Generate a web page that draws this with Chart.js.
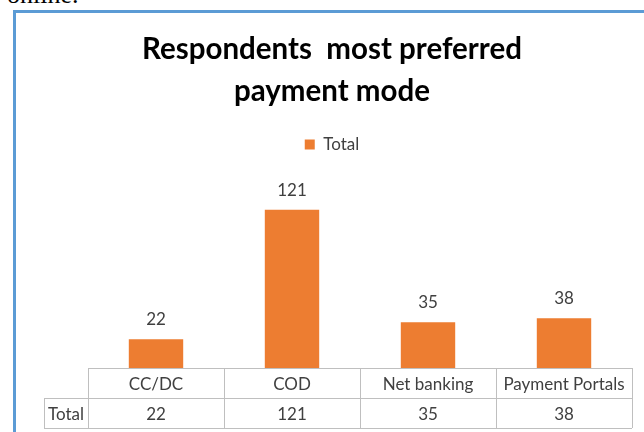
<!DOCTYPE html>
<html>
<head>
<meta charset="utf-8">
<script src="https://cdn.jsdelivr.net/npm/chart.js@4/dist/chart.umd.min.js"></script>
<style>
  html, body { margin: 0; padding: 0; width: 644px; height: 432px; overflow: hidden; background: #fff; }
  #prev { position: absolute; left: 7px; top: -18px; font: 26px/26px "Liberation Serif", "Times New Roman", serif; color: #000; white-space: nowrap; }
  #frame { position: absolute; left: 13px; top: 10px; width: 700px; height: 500px; border-left: 3px solid #5B9BD5; border-top: 3px solid #5B9BD5; }
  #wrap { position: absolute; left: 0; top: 0; width: 644px; height: 432px; }
</style>
</head>
<body>
<div id="prev">online.</div>
<div id="frame"></div>
<div id="wrap"><canvas id="c" width="644" height="432"></canvas></div>
<script>
const titleLines = ["Respondents  most preferred", "payment mode"];
const categories = ["CC/DC", "COD", "Net banking", "Payment Portals"];
const seriesName = "Total";
const totals = [22, 121, 35, 38];

const FONT = "Lato, 'Open Sans', sans-serif";
const TEXT = "#404040";

const legendGap = {
  id: 'legendGap',
  beforeInit(chart) {
    const orig = chart.legend.fit;
    chart.legend.fit = function () { orig.call(this); this.height += 22; };
  }
};

const barLabels = {
  id: 'barLabels',
  afterDatasetsDraw(chart) {
    const ctx = chart.ctx;
    const meta = chart.getDatasetMeta(0);
    ctx.save();
    ctx.font = "17px " + FONT;
    ctx.fillStyle = TEXT;
    ctx.textAlign = 'center';
    ctx.textBaseline = 'alphabetic';
    meta.data.forEach((bar, i) => {
      ctx.fillText(String(chart.data.datasets[0].data[i]), bar.x, bar.y - 14);
    });
    ctx.restore();
  }
};

const dataTable = {
  id: 'dataTable',
  afterDraw(chart) {
    const ctx = chart.ctx;
    const x = chart.scales.x;
    const area = chart.chartArea;
    const labels = chart.data.labels;
    const n = labels.length;
    const step = n > 1 ? x.getPixelForValue(1) - x.getPixelForValue(0) : x.width;
    const left = x.getPixelForValue(0) - step / 2;
    const right = x.getPixelForValue(n - 1) + step / 2;
    const rowH = 30;
    const top = area.bottom;
    const labelLeft = left - 44;
    const p = v => Math.round(v) + 0.5;
    ctx.save();
    ctx.strokeStyle = "#BFBFBF";
    ctx.lineWidth = 1;
    ctx.beginPath();
    // horizontal lines
    ctx.moveTo(left, p(top)); ctx.lineTo(right, p(top));
    ctx.moveTo(labelLeft, p(top + rowH)); ctx.lineTo(right, p(top + rowH));
    ctx.moveTo(labelLeft, p(top + 2 * rowH)); ctx.lineTo(right, p(top + 2 * rowH));
    // vertical lines
    ctx.moveTo(p(labelLeft), top + rowH); ctx.lineTo(p(labelLeft), top + 2 * rowH);
    for (let i = 0; i <= n; i++) {
      const xx = p(left + i * step);
      ctx.moveTo(xx, top); ctx.lineTo(xx, top + 2 * rowH);
    }
    ctx.stroke();
    ctx.font = "17px " + FONT;
    ctx.fillStyle = TEXT;
    ctx.textAlign = 'center';
    ctx.textBaseline = 'alphabetic';
    const vals = chart.data.datasets[0].data;
    for (let i = 0; i < n; i++) {
      const cx = x.getPixelForValue(i);
      ctx.fillText(labels[i], cx, top + 22);
      ctx.fillText(String(vals[i]), cx, top + rowH + 22);
    }
    ctx.fillText(chart.data.datasets[0].label, (labelLeft + left) / 2, top + rowH + 22);
    ctx.restore();
  }
};

new Chart(document.getElementById('c'), {
  type: 'bar',
  data: {
    labels: categories,
    datasets: [{
      label: seriesName,
      data: totals,
      backgroundColor: '#ED7D31',
      borderWidth: 0,
      categoryPercentage: 1.0,
      barPercentage: 0.4
    }]
  },
  options: {
    responsive: false,
    animation: false,
    devicePixelRatio: 1,
    layout: { padding: { left: 32, right: 12, top: 0, bottom: 64 } },
    plugins: {
      title: {
        display: true,
        text: titleLines,
        color: '#000',
        font: { family: FONT, size: 29.5, weight: 'bold', lineHeight: '42px' },
        padding: { top: 28.6, bottom: 13.4 }
      },
      legend: {
        display: true,
        position: 'top',
        labels: {
          boxWidth: 10,
          boxHeight: 10,
          padding: 10,
          color: TEXT,
          font: { family: FONT, size: 17 }
        }
      },
      tooltip: { enabled: false }
    },
    scales: {
      x: { display: false },
      y: {
        display: true,
        min: 0,
        max: 140,
        grid: { display: false },
        border: { display: false },
        ticks: { display: false },
        afterFit(scale) { scale.width = 56; }
      }
    }
  },
  plugins: [legendGap, barLabels, dataTable]
});
</script>
</body>
</html>
